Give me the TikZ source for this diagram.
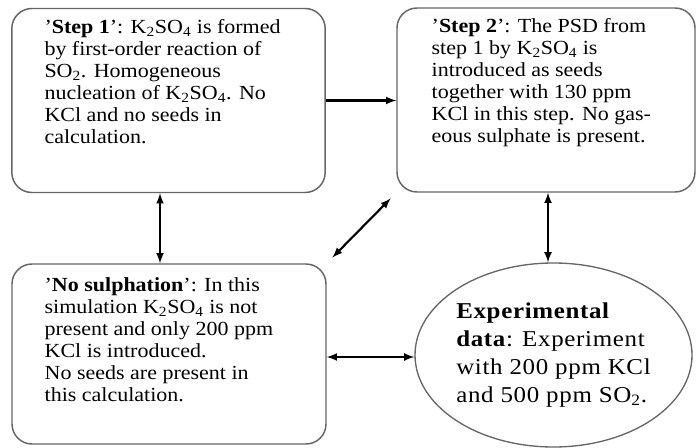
\documentclass[tikz,border=0pt]{standalone}
\usepackage{fontspec}
\setmainfont{Liberation Serif}[FakeStretch=1.1]
\newfontfamily\wideserif{Liberation Serif}[FakeStretch=1.1, LetterSpace=3]
\usetikzlibrary{shapes.geometric}

\newcommand{\ksulf}{K\textsubscript{2}SO\textsubscript{4}}

\tikzset{
	stage/.style={draw=black!60, line width=1.1pt, rounded corners=15pt, inner xsep=24.5pt, inner ysep=8pt, font=\fontsize{15}{16.5}\selectfont},
	result/.style={ellipse, draw=black!60, line width=1pt, inner sep=0pt, minimum width=207.75pt, minimum height=138pt, align=left, font=\wideserif\fontsize{17}{21}\selectfont},
	link/.style={<->, >=latex, line width=1.6pt}
}

\begin{document}
\begin{tikzpicture}[x=0.75pt,y=-0.75pt]
	\useasboundingbox (0,0) rectangle (698,448);
	\node[stage] (step1) at (168.5,100.5) {\parbox[c][122pt][t]{186pt}{\raggedright
		'\textbf{Step 1}': \ksulf{} is formed\\
		by first-order reaction of\\
		SO\textsubscript{2}. Homogeneous\\
		nucleation of \ksulf. No\\
		KCl and no seeds in\\
		calculation.}};
	\node[stage, inner xsep=26pt] (step2) at (546,100) {\parbox[c][122pt][t]{171.5pt}{\raggedright
		'\textbf{Step 2}': The PSD from\\
		step 1 by \ksulf{} is\\
		introduced as seeds\\
		together with 130 ppm\\
		KCl in this step. No gas-\\
		eous sulphate is present.}};
	\node[stage, inner ysep=10pt] (nosulph) at (169,354) {\parbox[c][115pt][t]{186.5pt}{\raggedright
		'\textbf{No sulphation}': In this\\
		simulation \ksulf{} is not\\
		present and only 200 ppm\\
		KCl is introduced.\\
		No seeds are present in\\
		this calculation.}};
	\node[result] (exp) at (553.5,355) {\textbf{Experimental}\\
		\textbf{data}: Experiment\\
		with 200 ppm KCl\\
		and 500 ppm SO\textsubscript{2}.};
	% connectors
	\coordinate (u) at (160,0);
	\coordinate (v) at (548,0);
	\coordinate (w) at (0,357);
	\draw[link,<-] (step2.west |- step1.east) -- (step1.east);
	\draw[link] (step1.south -| u) -- (nosulph.north -| u);
	\draw[link] (step2.south -| v) -- (exp.north -| v);
	\draw[link] (nosulph.east |- w) -- (exp.west |- w);
	\draw[link, shorten <=6pt, shorten >=6pt] (step2.south west) -- (nosulph.north east);
\end{tikzpicture}
\end{document}
